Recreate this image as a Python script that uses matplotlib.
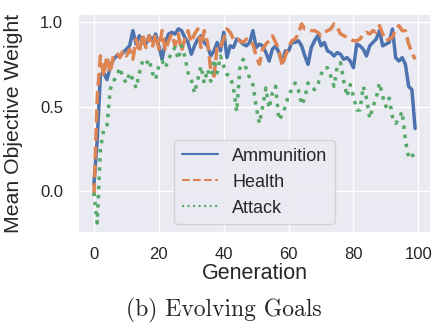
import matplotlib
matplotlib.use("Agg")
import matplotlib.pyplot as plt
import seaborn as sns
import numpy as np

sns.set_theme(style="darkgrid")
plt.rcParams['font.family'] = ['Liberation Sans', 'DejaVu Sans']

generations = list(range(100))

ammunition = [0.04, 0.30, 0.69, 0.70, 0.66, 0.73, 0.78, 0.80, 0.80, 0.82,
              0.84, 0.86, 0.95, 0.87, 0.92, 0.88, 0.87, 0.92, 0.89, 0.93,
              0.86, 0.78, 0.88, 0.93, 0.94, 0.93, 0.96, 0.95, 0.91, 0.88,
              0.81, 0.86, 0.90, 0.92, 0.88, 0.86, 0.80, 0.83, 0.88, 0.83,
              0.94, 0.79, 0.86, 0.85, 0.90, 0.89, 0.87, 0.86, 0.88, 0.95,
              0.85, 0.87, 0.86, 0.82, 0.77, 0.84, 0.86, 0.82, 0.76, 0.83,
              0.83, 0.88, 0.88, 0.89, 0.86, 0.80, 0.75, 0.85, 0.89, 0.92,
              0.86, 0.88, 0.83, 0.82, 0.80, 0.82, 0.81, 0.78, 0.79, 0.77,
              0.73, 0.87, 0.86, 0.84, 0.80, 0.86, 0.88, 0.90, 0.95, 0.86,
              0.87, 0.88, 0.96, 0.79, 0.77, 0.79, 0.75, 0.62, 0.60, 0.37]

health = [-0.03, 0.55, 0.80, 0.68, 0.80, 0.70, 0.80, 0.82, 0.79, 0.83,
          0.80, 0.84, 0.78, 0.90, 0.82, 0.93, 0.85, 0.92, 0.85, 0.93,
          0.84, 0.95, 0.83, 0.89, 0.93, 0.86, 0.93, 0.83, 0.90, 0.95,
          0.88, 0.93, 0.96, 0.85, 0.95, 0.88, 0.72, 0.68, 0.86, 0.85,
          0.90, 0.96, 0.94, 0.90, 0.91, 0.89, 0.88, 0.90, 0.90, 0.87,
          0.80, 0.75, 0.84, 0.87, 0.89, 0.92, 0.88, 0.84, 0.74, 0.80,
          0.85, 0.89, 0.90, 0.93, 0.99, 0.96, 0.96, 0.95, 0.95, 0.94,
          0.92, 0.94, 0.95, 0.96, 0.99, 0.97, 0.93, 0.92, 0.91, 0.90,
          0.89, 0.89, 0.90, 0.93, 0.94, 0.93, 0.95, 0.94, 0.98, 0.93,
          0.89, 0.90, 0.91, 0.96, 0.98, 0.95, 0.95, 0.87, 0.82, 0.78]

attack = [-0.01, -0.19, 0.25, 0.36, 0.38, 0.60, 0.65, 0.68, 0.73, 0.67,
          0.64, 0.70, 0.66, 0.61, 0.70, 0.77, 0.75, 0.78, 0.70, 0.66,
          0.74, 0.77, 0.73, 0.78, 0.82, 0.85, 0.78, 0.86, 0.80, 0.70,
          0.66, 0.58, 0.66, 0.74, 0.64, 0.72, 0.65, 0.78, 0.70, 0.80,
          0.74, 0.69, 0.68, 0.61, 0.47, 0.73, 0.78, 0.72, 0.67, 0.63,
          0.50, 0.40, 0.50, 0.61, 0.49, 0.58, 0.62, 0.42, 0.45, 0.50,
          0.57, 0.60, 0.64, 0.60, 0.51, 0.55, 0.64, 0.62, 0.60, 0.63,
          0.69, 0.73, 0.73, 0.68, 0.62, 0.74, 0.76, 0.65, 0.56, 0.63,
          0.56, 0.48, 0.48, 0.62, 0.55, 0.43, 0.50, 0.55, 0.64, 0.56,
          0.50, 0.55, 0.44, 0.40, 0.43, 0.47, 0.30, 0.20, 0.22, 0.18]

series_names = ["Ammunition", "Health", "Attack"]
xlabel = "Generation"
ylabel = "Mean Objective Weight"
caption = "(b) Evolving Goals"

pal = sns.color_palette("deep")

fig = plt.figure(figsize=(4.4, 3.24), dpi=100)
ax = fig.add_axes([0.177, 0.281, 0.803, 0.676])

ax.plot(generations, ammunition, color=pal[0], lw=2.5, ls='-', label=series_names[0])
ax.plot(generations, health, color=pal[1], lw=2.5, ls=(0, (3.7, 1.6)), label=series_names[1])
ax.plot(generations, attack, color=pal[2], lw=2.5, ls=(0, (1, 1.65)), label=series_names[2])

ax.set_xticks([0, 20, 40, 60, 80, 100])
ax.set_yticks([0.0, 0.5, 1.0])
ax.tick_params(axis='both', labelsize=12, length=0)
ax.tick_params(axis='x', pad=9.9)
ax.tick_params(axis='y', pad=10.6)
ax.set_xlabel(xlabel, fontsize=15.5, labelpad=1)
ax.set_ylabel(ylabel, fontsize=15.3, labelpad=12)

leg = ax.legend(loc='lower center', fontsize=13)
for ln in leg.get_lines():
    ln.set_linewidth(1.5)

fig.text(0.509, 0.043, caption, family='cmr10', fontsize=17, ha='center', va='center')

fig.savefig("out.png", dpi=100)
